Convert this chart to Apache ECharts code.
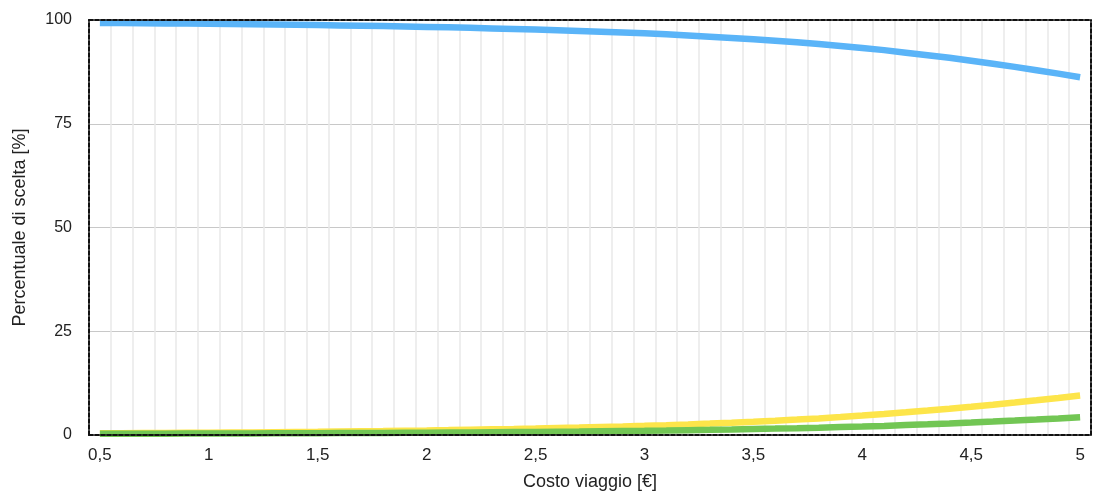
<!DOCTYPE html>
<html>
<head>
<meta charset="utf-8">
<script src="https://cdn.jsdelivr.net/npm/echarts@6/dist/echarts.min.js"></script>
<style>
html,body{margin:0;padding:0;background:#fff;}
#chart{width:1099px;height:496px;}
</style>
</head>
<body>
<div id="chart"></div>
<script>
var categories = ['0,5','0,6','0,7','0,8','0,9','1','1,1','1,2','1,3','1,4','1,5','1,6','1,7','1,8','1,9','2','2,1','2,2','2,3','2,4','2,5','2,6','2,7','2,8','2,9','3','3,1','3,2','3,3','3,4','3,5','3,6','3,7','3,8','3,9','4','4,1','4,2','4,3','4,4','4,5','4,6','4,7','4,8','4,9','5'];
var blueValues = [99.30,99.26,99.22,99.18,99.14,99.10,99.04,98.99,98.92,98.85,98.78,98.70,98.62,98.54,98.44,98.34,98.23,98.11,97.98,97.85,97.71,97.54,97.37,97.18,96.99,96.78,96.54,96.27,95.99,95.69,95.36,95.01,94.64,94.23,93.76,93.27,92.74,92.13,91.52,90.88,90.20,89.47,88.71,87.91,87.08,86.20];
var yellowValues = [0.40,0.43,0.46,0.49,0.52,0.55,0.59,0.63,0.68,0.73,0.78,0.84,0.90,0.96,1.03,1.10,1.18,1.27,1.36,1.45,1.55,1.67,1.79,1.92,2.05,2.20,2.37,2.56,2.76,2.97,3.20,3.45,3.71,4.00,4.34,4.70,5.08,5.48,5.90,6.34,6.80,7.30,7.82,8.36,8.92,9.50];
var greenValues = [0.30,0.31,0.32,0.33,0.34,0.35,0.37,0.38,0.40,0.42,0.44,0.46,0.48,0.50,0.53,0.56,0.59,0.62,0.66,0.70,0.74,0.79,0.84,0.90,0.96,1.02,1.09,1.17,1.25,1.34,1.44,1.54,1.65,1.77,1.90,2.03,2.18,2.39,2.58,2.78,3.00,3.23,3.47,3.73,4.00,4.30];
var yTicks = [0,25,50,75,100];

var font = 'Helvetica, "Liberation Sans", Arial, sans-serif';
var borderStyle = { color: '#111', width: 2, type: [4, 2] };
function frameX(pos) {
  return { type: 'category', data: categories, boundaryGap: true, position: pos, z: 10,
    axisLine: { show: true, onZero: false, lineStyle: borderStyle },
    axisTick: { show: false }, axisLabel: { show: false }, splitLine: { show: false } };
}
function frameY(pos) {
  return { type: 'value', min: yTicks[0], max: yTicks[yTicks.length - 1], interval: 25, position: pos, z: 10,
    axisLine: { show: true, onZero: false, lineStyle: borderStyle },
    axisTick: { show: false }, axisLabel: { show: false }, splitLine: { show: false } };
}

var chart = echarts.init(document.getElementById('chart'));
chart.setOption({
  animation: false,
  backgroundColor: '#ffffff',
  grid: { left: 89, right: 8, top: 20, bottom: 59 },
  xAxis: [{
    type: 'category',
    data: categories,
    boundaryGap: true,
    position: 'bottom',
    name: 'Costo viaggio [€]',
    nameLocation: 'middle',
    nameGap: 38,
    nameTextStyle: { fontFamily: font, fontSize: 18, color: '#222' },
    axisLine: { show: false, onZero: false },
    axisTick: { show: false },
    axisLabel: { interval: 4, margin: 12, fontFamily: font, fontSize: 17, color: '#222' },
    splitLine: { show: true, interval: 0, lineStyle: { color: '#e9e9e9', width: 1.5 } }
  }, frameX('top'), frameX('bottom')],
  yAxis: [{
    type: 'value',
    min: yTicks[0],
    max: yTicks[yTicks.length - 1],
    interval: 25,
    position: 'left',
    name: 'Percentuale di scelta [%]',
    nameLocation: 'middle',
    nameGap: 60,
    nameTextStyle: { fontFamily: font, fontSize: 18, color: '#222' },
    axisLine: { show: false },
    axisTick: { show: false },
    axisLabel: { margin: 17, fontFamily: font, fontSize: 16, color: '#222' },
    splitLine: { show: true, lineStyle: { color: '#c8c8c8', width: 1 } }
  }, frameY('right'), frameY('left')],
  series: [
    { type: 'line', data: blueValues, showSymbol: false, symbol: 'none', lineStyle: { color: '#5ab4f8', width: 6.5, cap: 'butt' }, z: 3 },
    { type: 'line', data: yellowValues, showSymbol: false, symbol: 'none', lineStyle: { color: '#fde54a', width: 6.5, cap: 'butt' }, z: 3 },
    { type: 'line', data: greenValues, showSymbol: false, symbol: 'none', lineStyle: { color: '#72c654', width: 6.5, cap: 'butt' }, z: 4 }
  ]
});
</script>
</body>
</html>
